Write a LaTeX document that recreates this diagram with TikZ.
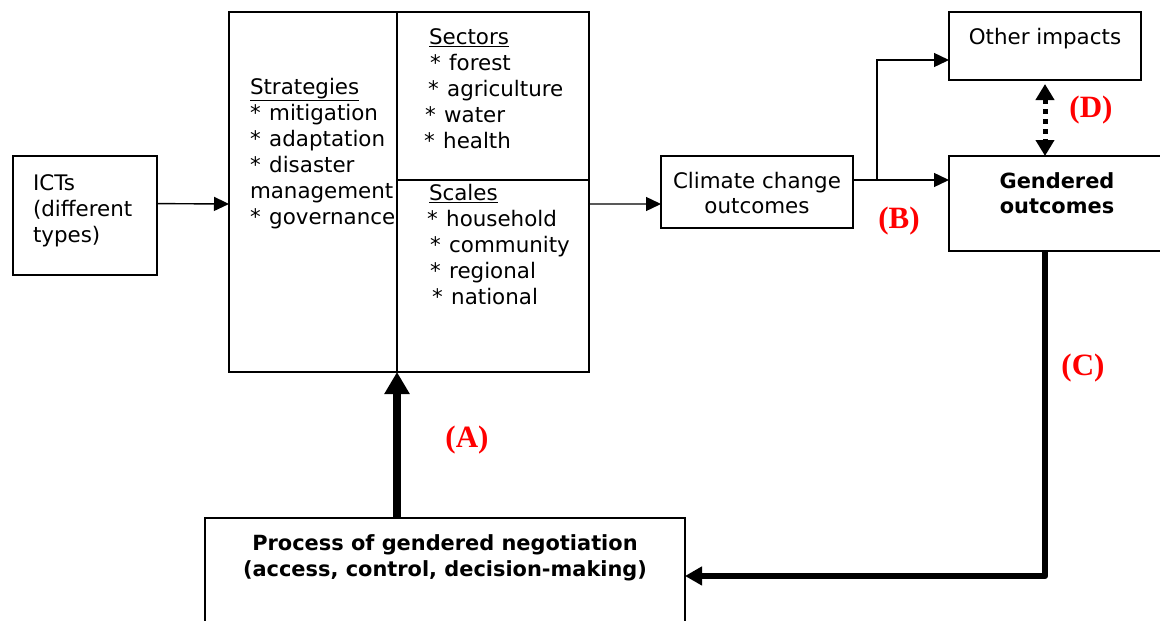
\documentclass[tikz,border=0pt]{standalone}
\usepackage{fontspec}
\setmainfont{DejaVu Sans}
\newfontfamily\labfont{Liberation Serif}
\usetikzlibrary{arrows.meta,calc}
\newcommand\bul{*\hspace{8.5pt}}
\begin{document}
\begin{tikzpicture}[x=1pt,y=-1pt,
  every node/.style={inner sep=0pt,outer sep=0pt},
  box/.style={draw,line width=1.6pt,rectangle},
  txt/.style={font=\fontsize{21.4}{26}\selectfont,anchor=base west},
  ctxt/.style={font=\fontsize{21.4}{26}\selectfont,anchor=base},
  btxt/.style={font=\fontsize{20.9}{26}\selectfont\bfseries,anchor=base},
  lab/.style={font=\fontsize{31}{34}\selectfont\labfont\bfseries,text=red},
  thinarr/.style={line width=1.4pt,-{Triangle[length=15pt,width=14pt]}},
  thickA/.style={line width=8pt,-{Triangle[length=22pt,width=24pt]}},
  thickC/.style={line width=6.5pt,line join=round,-{Triangle[length=17pt,width=18pt]}},
  dotarr/.style={line width=5pt,dash pattern=on 5pt off 5pt,{Triangle[length=16pt,width=18pt]}-{Triangle[length=16pt,width=18pt]}},
]
\useasboundingbox (0,0) rectangle (1160,621);
% boxes
\node[box,minimum width=144pt,minimum height=119pt] (ict) at (85,215.5) {};
\node[box,minimum width=360pt,minimum height=360pt] (big) at (409,192) {};
\node[box,minimum width=192pt,minimum height=72pt] (cc) at (757,192) {};
\node[box,minimum width=192pt,minimum height=68pt] (oth) at (1045,46) {};
\node[box,minimum width=222pt,minimum height=95pt] (gen) at (1060,203.5) {};
\node[box,minimum width=480pt,minimum height=130pt] (proc) at (445,583) {};
% dividers in big box
\coordinate (dv) at ($(big.north west)!0.4667!(big.north east)$);
\coordinate (dvb) at (dv |- big.south);
\coordinate (hz) at ($(big.north east)!0.4667!(big.south east)$);
\draw[line width=1.6pt] (dv) -- (dvb);
\draw[line width=1.6pt] (dv |- hz) -- (hz);
% texts
\node[txt] (ict1) at (33,190) {ICTs};
\node[txt] (ict2) at (33,216) {(different};
\node[txt] (ict3) at (33,242) {types)};
\node[txt] (st0) at (250,94) {\underline{Strategies}};
\node[txt] (st1) at (250,120) {\bul mitigation};
\node[txt] (st2) at (250,146) {\bul adaptation};
\node[txt] (st3) at (250,172) {\bul disaster};
\node[txt] (st4) at (250,198) {management};
\node[txt] (st5) at (250,224) {\bul governance};
\node[txt] (se0) at (429,44) {\underline{Sectors}};
\node[txt] (se1) at (430,70) {\bul forest};
\node[txt] (se2) at (428,96) {\bul agriculture};
\node[txt] (se3) at (425,122) {\bul water};
\node[txt] (se4) at (424,148) {\bul health};
\node[txt] (sc0) at (429,200) {\underline{Scales}};
\node[txt] (sc1) at (427,226) {\bul household};
\node[txt] (sc2) at (430,252) {\bul community};
\node[txt] (sc3) at (430,278) {\bul regional};
\node[txt] (sc4) at (432,304) {\bul national};
\node[ctxt] (cc1) at (757,188) {Climate change};
\node[ctxt] (cc2) at (757,213) {outcomes};
\node[ctxt] (oth1) at (1045,44) {Other impacts};
\node[btxt] (gen1) at (1057,188) {Gendered};
\node[btxt] (gen2) at (1057,213) {outcomes};
\node[btxt] (pr1) at (445,550) {Process of gendered negotiation};
\node[btxt] (pr2) at (445,576) {(access, control, decision-making)};
% labels
\node[lab] (la) at (467,440) {(A)};
\node[lab] (lb) at (899,221) {(B)};
\node[lab] (lc) at (1083,368) {(C)};
\node[lab] (ld) at (1091,110) {(D)};
% connectors
\draw[thinarr] ($(ict.north east)!0.4!(ict.south east)$) -- ($(big.north west)!0.5333!(big.south west)$);
\draw[thinarr] ($(big.north east)!0.5333!(big.south east)$) -- ($(cc.north west)!0.6667!(cc.south west)$);
\coordinate (ccout) at ($(cc.north east)!0.3333!(cc.south east)$);
\coordinate (br) at ($(ccout)+(24,0)$);
\draw[thinarr] (ccout) -- (gen.west |- ccout);
\draw[thinarr] (br) |- ($(oth.north west)!0.706!(oth.south west)$);
\draw[thickA] (dv |- proc.north) -- (dvb);
\coordinate (pin) at ($(proc.north east)!0.446!(proc.south east)$);
\draw[thickC] (oth.south |- gen.south) |- (pin);
\draw[dotarr] ($(oth.south)+(0,4)$) -- (gen.north -| oth.south);
\end{tikzpicture}
\end{document}
